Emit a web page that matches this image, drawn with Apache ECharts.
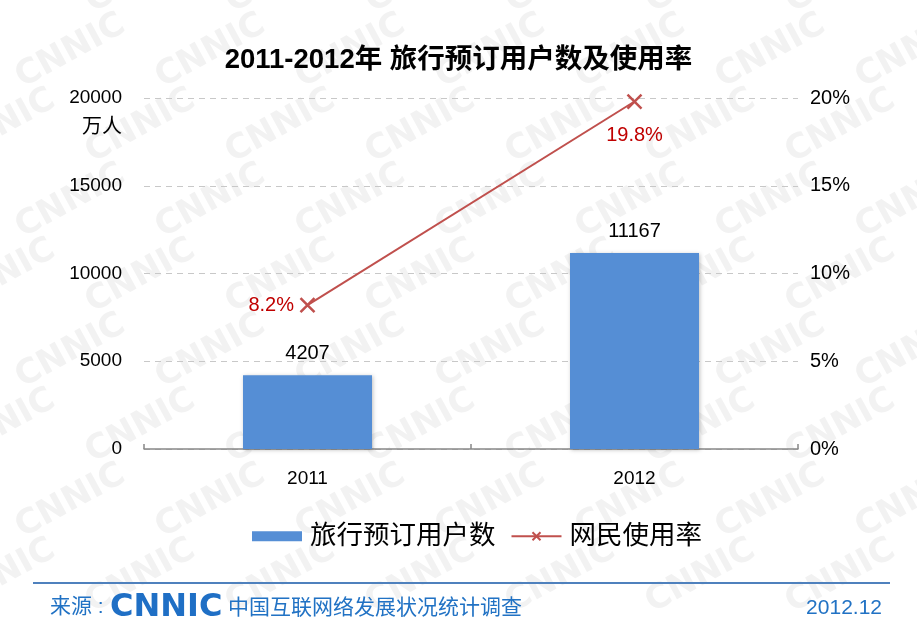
<!DOCTYPE html>
<html>
<head>
  <meta charset="utf-8">
  <title>2011-2012年 旅行预订用户数及使用率</title>
  <script src="https://cdn.jsdelivr.net/npm/echarts@6/dist/echarts.min.js"></script>
  <style>
    html, body { margin: 0; padding: 0; background: #fff; }
    #main { width: 917px; height: 631px; }
  </style>
</head>
<body>
  <div id="main"></div>
  <script>
    // data
    var years = ['2011', '2012'];
    var users = [4207, 11167];      // 万人
    var usageRate = [8.2, 19.8];    // %
    var rateLabelPos = ['left', 'bottom'];
    var leftTicks = [0, 5000, 10000, 15000, 20000];

    var FONT = 'Arial, "Liberation Sans", "Noto Sans CJK SC", sans-serif';
    var BLUE = '#558ed5';
    var RED = '#c0504d';
    var FOOT = '#2172c4';

    // faint CNNIC watermark tiles in the background
    var marks = [];
    for (var r = 0; r < 9; r++) {
      for (var c = 0; c < 8; c++) {
        marks.push({
          type: 'text',
          x: c * 140 - 60 + (r % 2) * 70,
          y: r * 75 - 10,
          rotation: 0.5,
          z: -10,
          silent: true,
          style: {
            text: 'CNNIC',
            fill: '#f2f2f2',
            font: 'bold 34px "DejaVu Sans", sans-serif'
          }
        });
      }
    }

    var chart = echarts.init(document.getElementById('main'));
    chart.setOption({
      backgroundColor: '#fff',
      animation: false,
      title: {
        text: '2011-2012年 旅行预订用户数及使用率',
        left: 'center',
        top: 42,
        textStyle: { fontFamily: FONT, fontSize: 27.5, fontWeight: 'bold', color: '#000' }
      },
      legend: {
        top: 518,
        left: 247,
        itemWidth: 50,
        itemHeight: 10,
        itemGap: 15,
        textStyle: { fontFamily: FONT, fontSize: 26.5, color: '#000', padding: [0, 0, 0, 3] },
        data: [
          { name: '旅行预订用户数', icon: 'rect' },
          { name: '网民使用率' }
        ]
      },
      grid: { left: 144, right: 119, top: 98, bottom: 182 },
      xAxis: {
        type: 'category',
        data: years,
        axisLine: { lineStyle: { color: '#888', width: 1.5 } },
        axisTick: { show: true, inside: true, length: 5, lineStyle: { color: '#888', width: 1.5 } },
        axisLabel: { fontFamily: FONT, fontSize: 19, color: '#000', margin: 20 }
      },
      yAxis: [
        {
          type: 'value',
          min: leftTicks[0],
          max: leftTicks[leftTicks.length - 1],
          interval: 5000,
          axisLine: { show: false },
          axisTick: { show: false },
          axisLabel: { fontFamily: FONT, fontSize: 19, color: '#000', margin: 22, formatter: function (v) { return String(v); } },
          splitLine: { lineStyle: { color: '#c8c8c8', type: [6, 5], width: 1.2 } }
        },
        {
          type: 'value',
          min: 0,
          max: 20,
          interval: 5,
          position: 'right',
          axisLine: { show: false },
          axisTick: { show: false },
          axisLabel: { fontFamily: FONT, fontSize: 20, color: '#000', margin: 12, formatter: '{value}%' },
          splitLine: { show: false }
        }
      ],
      series: [
        {
          name: '旅行预订用户数',
          type: 'bar',
          data: users,
          barWidth: 129,
          itemStyle: {
            color: BLUE,
            shadowColor: 'rgba(0,0,0,0.25)',
            shadowBlur: 4,
            shadowOffsetX: 1,
            shadowOffsetY: 1
          },
          label: {
            show: true,
            position: 'top',
            distance: 12,
            fontFamily: FONT,
            fontSize: 20,
            color: '#000'
          }
        },
        {
          name: '网民使用率',
          type: 'line',
          yAxisIndex: 1,
          data: usageRate.map(function (v, i) {
            return { value: v, label: { position: rateLabelPos[i] } };
          }),
          symbol: 'path://M0,0L10,10M10,0L0,10',
          symbolSize: 14,
          lineStyle: { color: RED, width: 2 },
          itemStyle: { color: 'none', borderColor: RED, borderWidth: 2.5 },
          label: {
            show: true,
            distance: 4,
            fontFamily: FONT,
            fontSize: 20,
            color: '#c00000',
            formatter: function (p) { return p.value.toFixed(1) + '%'; }
          },
          labelLayout: function (p) {
            if (p.dataIndex === 1) {
              return { dy: 10 };
            }
            return {};
          }
        }
      ],
      graphic: marks.concat([
        {
          type: 'text',
          x: 122, y: 127,
          style: { text: '万人', fill: '#000', font: '20px ' + FONT, textAlign: 'right', textVerticalAlign: 'middle' }
        },
        {
          type: 'rect',
          shape: { x: 33, y: 582, width: 857, height: 2 },
          style: { fill: '#4f81bd' }
        },
        {
          type: 'text',
          x: 50, y: 607,
          style: { text: '来源 :', fill: FOOT, font: '21px ' + FONT, textVerticalAlign: 'middle' }
        },
        {
          type: 'text',
          x: 110, y: 608,
          style: { text: 'CNNIC', fill: '#1f6fc5', font: 'bold 32px "DejaVu Sans", sans-serif', textVerticalAlign: 'middle' }
        },
        {
          type: 'text',
          x: 228, y: 608,
          style: { text: '中国互联网络发展状况统计调查', fill: FOOT, font: '21px ' + FONT, textVerticalAlign: 'middle' }
        },
        {
          type: 'text',
          x: 882, y: 608,
          style: { text: '2012.12', fill: FOOT, font: '21px ' + FONT, textAlign: 'right', textVerticalAlign: 'middle' }
        }
      ])
    });
  </script>
</body>
</html>
